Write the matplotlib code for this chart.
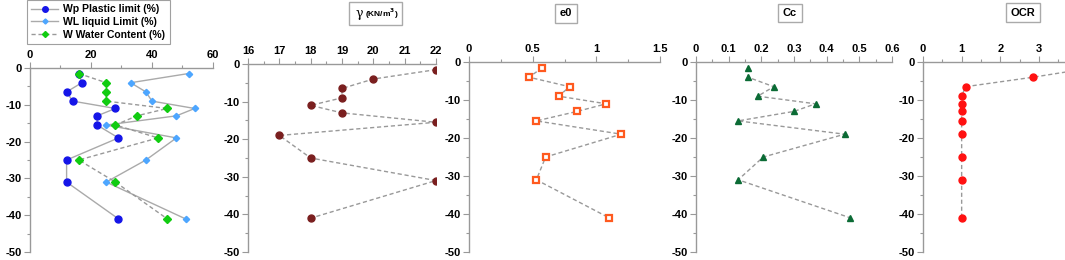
import numpy as np
import matplotlib.pyplot as plt
from matplotlib.patches import Rectangle
from matplotlib.ticker import MultipleLocator

plt.rcParams['font.family'] = ['Liberation Sans', 'DejaVu Sans']
plt.rcParams['font.weight'] = 'bold'
plt.rcParams['axes.unicode_minus'] = False

# profundidades (m)
depth = [-1.5, -4, -6.5, -9, -11, -13, -15.5, -19, -25, -31, -41]

wp = [16, 17, 12, 14, 28, 22, 22, 29, 12, 12, 29]
wl = [52, 33, 38, 40, 54, 48, 25, 48, 38, 25, 51]
w = [16, 25, 25, 25, 45, 35, 28, 42, 16, 28, 45]
gamma = [22, 20, 19, 19, 18, 19, 22, 17, 18, 22, 18]
e0 = [0.576, 0.471, 0.79, 0.704, 1.078, 0.85, 0.529, 1.196, 0.602, 0.529, 1.10]
cc = [0.159, 0.159, 0.238, 0.189, 0.366, 0.30, 0.129, 0.455, 0.206, 0.129, 0.472]
ocr = [4.4, 2.85, 1.1, 1, 1, 1, 1, 1, 1, 1, 1]

W, H = 1065, 260
fig = plt.figure(figsize=(W / 100, H / 100), dpi=100)


def make_ax(l, r, t, b, xlim, xmaj, xmin):
    ax = fig.add_axes([l / W, 1 - b / H, (r - l) / W, (b - t) / H])
    ax.set_xlim(*xlim)
    ax.set_ylim(-50, 0)
    ax.xaxis.tick_top()
    ax.xaxis.set_major_locator(MultipleLocator(xmaj))
    ax.xaxis.set_minor_locator(MultipleLocator(xmin))
    ax.yaxis.set_major_locator(MultipleLocator(10))
    ax.yaxis.set_minor_locator(MultipleLocator(5))
    for s in ['right', 'bottom']:
        ax.spines[s].set_visible(False)
    for s in ['left', 'top']:
        ax.spines[s].set_color('#999999')
        ax.spines[s].set_linewidth(1)
    ax.tick_params(which='both', colors='#999999', labelcolor='black',
                   labelsize=8, width=0.8)
    ax.tick_params(which='major', length=4, pad=2)
    ax.tick_params(which='minor', length=2.5)
    for lab in ax.get_xticklabels() + ax.get_yticklabels():
        lab.set_fontweight('bold')
    ax.patch.set_alpha(0)
    return ax


def fmt(v, pos=None):
    return '%g' % v


dash = dict(color='#999999', ls='--', lw=1, dashes=(3, 2))

# panel 1: limites de Atterberg
ax1 = make_ax(30, 213, 68, 252, (0, 60), 20, 10)
l1, = ax1.plot(wp, depth, '-', color='#aaaaaa', lw=1, marker='o', ms=5,
               mfc='#1515e8', mec='#1515e8', label='Wp Plastic limit (%)')
l2, = ax1.plot(wl, depth, '-', color='#aaaaaa', lw=1, marker='D', ms=3.2,
               mfc='#4da6ff', mec='#4da6ff', label='WL liquid Limit (%)')
l3, = ax1.plot(w, depth, color='#999999', ls='--', dashes=(3, 2), lw=1,
               marker='D', ms=3.8, mfc='#11cc11', mec='#11cc11',
               label='W Water Content (%)')
leg = fig.legend(handles=[l1, l2, l3], loc='upper left',
                 bbox_to_anchor=(27 / W, 1.0), frameon=True, fancybox=False,
                 fontsize=7.5, handlelength=2.6, borderpad=0.4,
                 labelspacing=0.28, handletextpad=0.5, borderaxespad=0,
                 markerscale=0.8)
leg.get_frame().set_edgecolor('#888888')
leg.get_frame().set_linewidth(0.8)
for t in leg.get_texts():
    t.set_fontweight('bold')

# panel 2: peso unitario
ax2 = make_ax(248, 436, 64, 252, (16, 22), 1, 0.5)
ax2.plot(gamma, depth, marker='o', ms=5, mfc='#7a1f1f', mec='#7a1f1f', **dash)

# panel 3: e0
ax3 = make_ax(469, 660, 62, 252, (0, 1.5), 0.5, 0.25)
ax3.xaxis.set_major_formatter(fmt)
ax3.plot(e0, depth, marker='s', ms=4.2, mfc='white', mec='#ff5a1f', mew=1.6,
         **dash)

# panel 4: Cc
ax4 = make_ax(696, 892, 62, 252, (0, 0.6), 0.1, 0.05)
ax4.xaxis.set_major_formatter(fmt)
ax4.plot(cc, depth, marker='^', ms=5, mfc='#0b6b35', mec='#0b6b35', **dash)

# panel 5: OCR
ax5 = make_ax(923, 1066, 62, 252, (0, 3.7), 1, 0.5)
ax5.plot(ocr, depth, marker='o', ms=5, mfc='#ff1111', mec='#ff1111', **dash)

# titulos en caja
fig.patches.append(Rectangle((349 / W, 1 - 25 / H), 53 / W, 23 / H,
                             transform=fig.transFigure, fc='white',
                             ec='#aaaaaa', lw=1))
fig.text(359 / W, 1 - 14 / H, 'γ', ha='center', va='center', fontsize=9,
         fontweight='normal', family=['DejaVu Serif'])
fig.text(365 / W, 1 - 13.5 / H, '(KN/m$^\\mathbf{3}$)', ha='left',
         va='center', fontsize=6, fontweight='bold')

box = dict(boxstyle='square,pad=0.4', fc='white', ec='#aaaaaa', lw=1)
fig.text(566 / W, 1 - 13.5 / H, 'e0', ha='center', va='center', fontsize=8,
         fontweight='bold', bbox=box)
fig.text(790 / W, 1 - 13 / H, 'Cc', ha='center', va='center', fontsize=8,
         fontweight='bold', bbox=box)
fig.text(1023 / W, 1 - 12.5 / H, 'OCR', ha='center', va='center', fontsize=8,
         fontweight='bold', bbox=box)

fig.savefig('out.png', dpi=100)
